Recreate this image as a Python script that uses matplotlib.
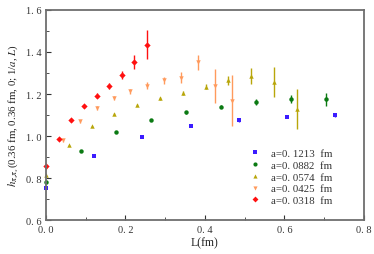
import matplotlib
matplotlib.use("Agg")
import matplotlib.pyplot as plt
from matplotlib.lines import Line2D
from matplotlib.ticker import MultipleLocator

plt.rcParams['font.family'] = ['Liberation Serif', 'DejaVu Serif']
plt.rcParams['mathtext.fontset'] = 'stix'

# L (fm) and h values for each lattice spacing
x_a1213 = [0.0, 0.1213, 0.2426, 0.3639, 0.4852, 0.6065, 0.7278]
y_a1213 = [0.752, 0.905, 0.997, 1.046, 1.074, 1.091, 1.098]
e_a1213 = [0.0, 0.004, 0.004, 0.005, 0.006, 0.007, 0.008]

x_a0882 = [0.0, 0.0882, 0.1764, 0.2646, 0.3528, 0.441, 0.5292, 0.6174, 0.7056]
y_a0882 = [0.783, 0.930, 1.021, 1.077, 1.113, 1.140, 1.162, 1.177, 1.175]
e_a0882 = [0.0, 0.004, 0.005, 0.006, 0.006, 0.008, 0.012, 0.02, 0.03]

x_a0574 = [0.0, 0.0574, 0.1148, 0.1722, 0.2296, 0.287, 0.3444, 0.4018,
           0.4592, 0.5166, 0.574, 0.6314]
y_a0574 = [0.815, 0.955, 1.046, 1.106, 1.149, 1.180, 1.203, 1.234,
           1.266, 1.288, 1.257, 1.128]
e_a0574 = [0.0, 0.004, 0.004, 0.005, 0.005, 0.007, 0.009, 0.012,
           0.022, 0.038, 0.071, 0.096]

x_a0425 = [0.0, 0.0425, 0.085, 0.1275, 0.17, 0.2125, 0.255, 0.2975,
           0.34, 0.3825, 0.425, 0.4675]
y_a0425 = [0.847, 0.979, 1.070, 1.132, 1.180, 1.212, 1.240, 1.265,
           1.277, 1.350, 1.238, 1.169]
e_a0425 = [0.0, 0.005, 0.006, 0.009, 0.01, 0.012, 0.015, 0.018,
           0.026, 0.037, 0.079, 0.12]

x_a0318 = [0.0, 0.0318, 0.0636, 0.0954, 0.1272, 0.159, 0.1908, 0.2226, 0.2544]
y_a0318 = [0.857, 0.986, 1.076, 1.141, 1.192, 1.237, 1.290, 1.353, 1.435]
e_a0318 = [0.0, 0.006, 0.007, 0.008, 0.011, 0.014, 0.019, 0.034, 0.068]

series = [
    (x_a1213, y_a1213, e_a1213, 's', '#3b1cff', 'a=0. 1213  fm'),
    (x_a0882, y_a0882, e_a0882, 'o', '#0b7a13', 'a=0. 0882  fm'),
    (x_a0574, y_a0574, e_a0574, '^', '#b8a60a', 'a=0. 0574  fm'),
    (x_a0425, y_a0425, e_a0425, 'v', '#ff9a5c', 'a=0. 0425  fm'),
    (x_a0318, y_a0318, e_a0318, 'D', '#ff1010', 'a=0. 0318  fm'),
]

fig = plt.figure(figsize=(3.74, 2.55), dpi=100)
ax = fig.add_axes([0.123, 0.133, 0.85, 0.824])

handles = []
for x, y, e, m, c, lab in series:
    ax.errorbar(x, y, yerr=e, fmt=m, color=c, ms=3.2, mew=0, elinewidth=1.0,
                capsize=2, capthick=0.9, clip_on=False)
    handles.append(Line2D([], [], ls='none', marker=m, color=c, ms=3, mew=0,
                          label=lab))

ax.set_xlim(0, 0.8)
ax.set_ylim(0.6, 1.6)
ax.xaxis.set_major_locator(MultipleLocator(0.2))
ax.xaxis.set_minor_locator(MultipleLocator(0.1))
ax.yaxis.set_major_locator(MultipleLocator(0.2))
ax.yaxis.set_minor_locator(MultipleLocator(0.1))
fmt = plt.FuncFormatter(lambda v, p: f"{v:.1f}".replace('.', '. '))
ax.xaxis.set_major_formatter(fmt)
ax.yaxis.set_major_formatter(fmt)
ax.tick_params(which='both', direction='in', labelsize=7.5, colors='#333333',
               top=False, right=False)
ax.tick_params(which='major', length=3.5, width=0.8)
ax.tick_params(which='minor', length=2, width=0.6)

for s in ax.spines.values():
    s.set_color('#6e6e6e')
    s.set_linewidth(1.3)

ax.set_xlabel('L(fm)', fontsize=8.5, color='#222222', labelpad=2)
ax.set_ylabel(r'$h_{\pi_x\pi_x}$(0.36 fm, 0.36 fm, 0; 1/$a$, $L$)',
              fontsize=7.8, color='#222222', labelpad=3)

leg = ax.legend(handles=handles, loc='lower right', bbox_to_anchor=(0.925, 0.035),
                frameon=False, fontsize=7.8, handletextpad=1.0,
                labelspacing=0.2, handlelength=1.0, borderpad=0.2)
for t in leg.get_texts():
    t.set_color('#333333')

fig.savefig('out.png', dpi=100)
